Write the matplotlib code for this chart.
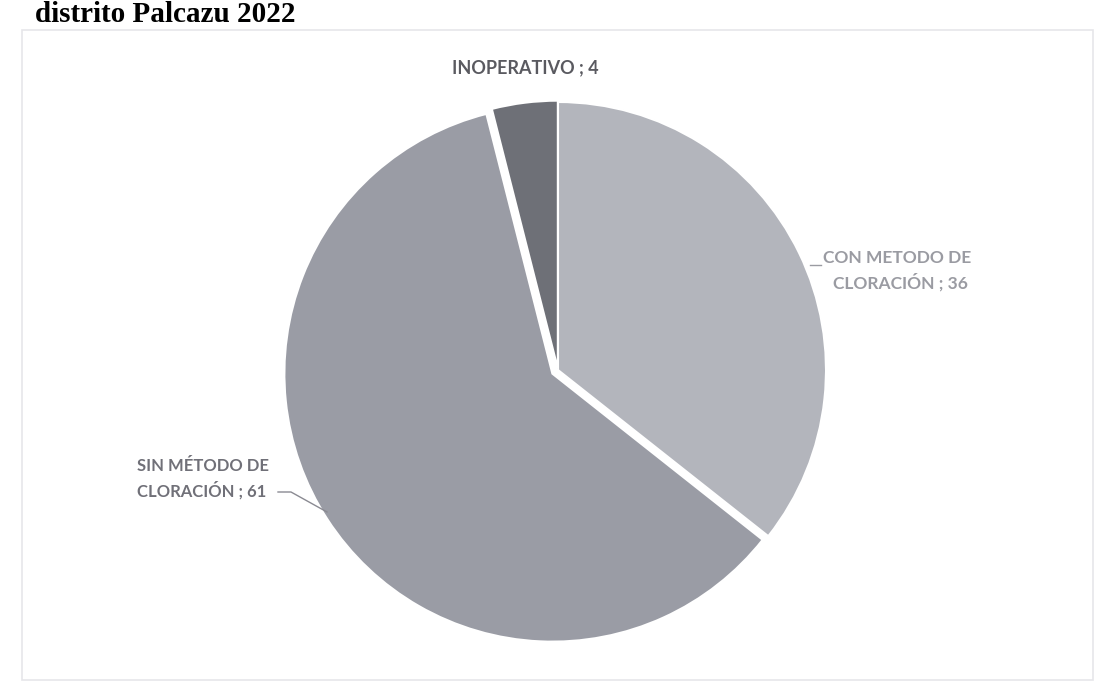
import matplotlib.pyplot as plt
from matplotlib.patches import Rectangle

#### Donnees ####

categories = ["CON METODO DE\nCLORACIÓN", "SIN MÉTODO DE\nCLORACIÓN", "INOPERATIVO"]
valeurs = [36, 61, 4]
couleurs = ["#b3b5bc", "#9a9ca5", "#6e7077"]
titre = "distrito Palcazu 2022"

#### Figure ####

W, H = 1109, 699
fig = plt.figure(figsize=(W / 100, H / 100), dpi=100)
fig.patch.set_facecolor("white")

# cadre tres pale du graphique
fig.patches.append(Rectangle((22 / W, 1 - 680 / H), (1093 - 22) / W, (680 - 30) / H,
                             transform=fig.transFigure, fill=False,
                             edgecolor="#e6e6ea", linewidth=1.2))

# titre (en haut a gauche)
fig.text(35 / W, 1 - 22 / H, titre, family="Liberation Serif", weight="bold",
         fontsize=21, va="baseline", ha="left", color="black")

cx, cy, r = 558, 370, 268
ax = fig.add_axes([(cx - r) / W, 1 - (cy + r) / H, 2 * r / W, 2 * r / H])
wedges, _ = ax.pie(valeurs, colors=couleurs, startangle=90, counterclock=False,
                   explode=[0, 0.025, 0.005],
                   wedgeprops=dict(edgecolor="white", linewidth=1.5))
ax.set_xlim(-1, 1)
ax.set_ylim(-1, 1)
ax.set_aspect("equal")
ax.axis("off")

# etiquettes
def px(x, y):
    return x / W, 1 - y / H

fig.text(*px(525, 68), f"{categories[2]} ; {valeurs[2]}", family="Lato",
         weight="bold", fontsize=13, color="#5a5a60", ha="center", va="center")

l1, l2 = categories[0].split("\n")
fig.text(*px(823, 258), l1, family="Lato", weight="bold", fontsize=12.5,
         color="#9a9ba2", ha="left", va="center")
fig.text(*px(833, 282), f"{l2} ; {valeurs[0]}", family="Lato", weight="bold",
         fontsize=12.5, color="#9a9ba2", ha="left", va="center")
fig.add_artist(plt.Line2D([810 / W, 821 / W], [1 - 265 / H, 1 - 265 / H],
                          color="#9a9ba2", linewidth=1))

s1, s2 = categories[1].split("\n")
fig.text(*px(137, 466), s1, family="Lato", weight="bold", fontsize=12,
         color="#707078", ha="left", va="center")
fig.text(*px(137, 490), f"{s2} ; {valeurs[1]}", family="Lato", weight="bold",
         fontsize=12, color="#707078", ha="left", va="center")
fig.add_artist(plt.Line2D([278 / W, 291 / W, 327 / W],
                          [1 - 492 / H, 1 - 492 / H, 1 - 512 / H],
                          color="#8a8a92", linewidth=1))

fig.savefig("out.png", dpi=100)
